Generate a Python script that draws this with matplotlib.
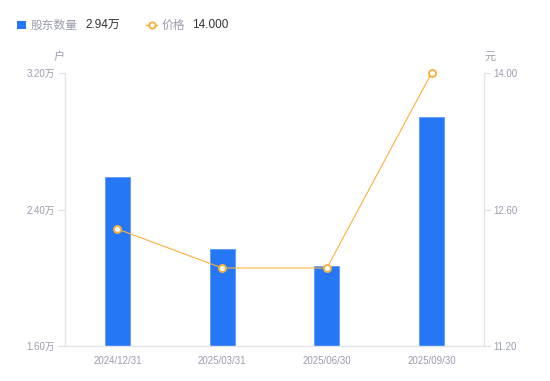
import matplotlib
matplotlib.use("Agg")
import matplotlib.pyplot as plt
from matplotlib.patches import Rectangle
from matplotlib.lines import Line2D

categories = ["2024/12/31", "2025/03/31", "2025/06/30", "2025/09/30"]
holders = [2.59, 2.17, 2.07, 2.94]          # 万户
price = [12.40, 12.00, 12.00, 14.00]        # 元
left_ticks = [1.60, 2.40, 3.20]
right_ticks = [11.20, 12.60, 14.00]

FAM = ["Liberation Sans", "Noto Sans CJK SC", "DejaVu Sans"]
CJK = ["Noto Sans CJK SC", "DejaVu Sans"]
plt.rcParams["font.family"] = FAM

GRAY = "#9A9DAD"
DARK = "#333333"
SPINE = "#E3E4E8"
BLUE = "#2577F6"
ORANGE = "#F9B13B"

W, H = 550, 381
fig = plt.figure(figsize=(W / 100, H / 100), dpi=100)
ax = fig.add_axes([65 / W, 35 / H, 419 / W, 273 / H])
ax2 = ax.twinx()

x = list(range(len(categories)))
ax.bar(x, holders, width=0.24, color=BLUE, edgecolor="#5D9BF8", linewidth=0.6, zorder=2)
ax.set_xlim(-0.5, len(categories) - 0.5)
ax.set_ylim(left_ticks[0], left_ticks[-1])
ax.set_yticks(left_ticks)
ax.set_yticklabels([f"{v:.2f}万" for v in left_ticks])
ax.set_xticks(x)
ax.set_xticklabels(categories)

ax2.plot(x, price, color=ORANGE, linewidth=0.8, marker="o", markersize=5,
         markerfacecolor="white", markeredgecolor=ORANGE, markeredgewidth=1.4, zorder=3,
         clip_on=False)
ax2.set_ylim(right_ticks[0], right_ticks[-1])
ax2.set_yticks(right_ticks)
ax2.set_yticklabels([f"{v:.2f}" for v in right_ticks])

for a in (ax, ax2):
    for s in a.spines.values():
        s.set_color(SPINE)
        s.set_linewidth(1.0)
    a.spines["top"].set_visible(False)
ax.spines["right"].set_visible(False)
ax2.spines["left"].set_visible(False)
ax2.spines["bottom"].set_visible(False)

ax.tick_params(axis="y", length=5, width=1, color=SPINE, pad=2, labelsize=7, labelcolor=GRAY)
ax.tick_params(axis="x", length=0, pad=7, labelsize=7, labelcolor=GRAY)
ax2.tick_params(axis="y", length=5, width=1, color=SPINE, pad=2, labelsize=7, labelcolor=GRAY)

# axis unit labels
fig.text(59 / W, 1 - 57 / H, "户", fontsize=8, color=GRAY, family=CJK, ha="center", va="center")
fig.text(490 / W, 1 - 57 / H, "元", fontsize=8, color=GRAY, family=CJK, ha="center", va="center")

# legend
ly = 1 - 25 / H
fig.patches.append(Rectangle((17 / W, 1 - 29 / H), 9 / W, 8 / H, transform=fig.transFigure,
                             facecolor=BLUE, edgecolor="none"))
fig.text(31 / W, ly, "股东数量", fontsize=8.5, color=GRAY, family=CJK, va="center")
fig.text(85 / W, ly, "2.94万", fontsize=8.5, color=DARK, family=FAM, va="center")
fig.lines.append(Line2D([146 / W, 157 / W], [ly, ly], transform=fig.transFigure,
                        color=ORANGE, linewidth=1.0))
fig.lines.append(Line2D([151.5 / W], [ly], transform=fig.transFigure, marker="o", markersize=4.5,
                        markerfacecolor="white", markeredgecolor=ORANGE, markeredgewidth=1.4))
fig.text(162 / W, ly, "价格", fontsize=8.5, color=GRAY, family=CJK, va="center")
fig.text(192 / W, ly, "14.000", fontsize=8.5, color=DARK, family=FAM, va="center")

fig.savefig("out.png", dpi=100)
